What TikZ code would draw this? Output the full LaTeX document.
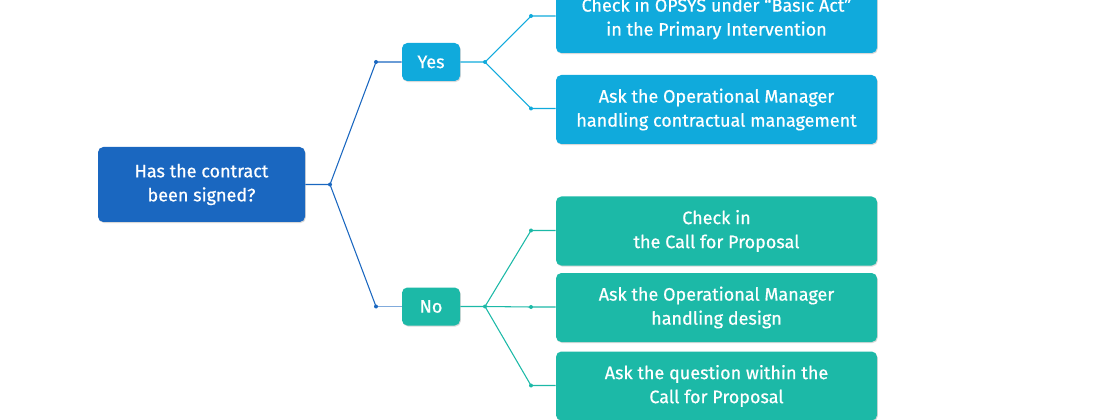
\documentclass[tikz,border=0pt]{standalone}
\usepackage{fontspec}
\setmainfont{Fira Sans}[FakeBold=0.6, UprightFeatures={FakeBold=0.6}]
\usetikzlibrary{shadows}
\definecolor{qblue}{HTML}{1A67C0}
\definecolor{lblue}{HTML}{10AADC}
\definecolor{tealc}{HTML}{1CB9A7}
\begin{document}
\begin{tikzpicture}[x=0.75pt,y=-0.75pt,
  box/.style={rounded corners=4pt, text=white, align=center,
    font=\fontsize{13.5}{18}\selectfont, inner sep=0pt,
    drop shadow={opacity=0.3, shadow xshift=0.6pt, shadow yshift=-0.8pt}},
  qbox/.style={box, fill=qblue, minimum width=155.25pt, minimum height=56.25pt},
  ynbox/.style={box, minimum width=43.5pt, minimum height=28.5pt},
  actbox/.style={box, minimum width=240.75pt, minimum height=51.75pt},
  link/.style={line width=0.8pt},
  dot/.style={circle, fill, inner sep=0pt, minimum size=3pt}]
\useasboundingbox (0,0) rectangle (1109,420);
% nodes
\node[qbox] (q) at (201.5,184.5) {Has the contract\\been signed?};
\node[ynbox, fill=lblue] (yes) at (431,62) {Yes};
\node[ynbox, fill=tealc] (no) at (431,306.5) {No};
\node[actbox, fill=lblue] (a1) at (716.5,18.5) {Check in OPSYS under “Basic Act”\\in the Primary Intervention};
\node[actbox, fill=lblue] (a2) at (716.5,109.5) {Ask the Operational Manager\\handling contractual management};
\node[actbox, fill=tealc] (b1) at (716.5,231) {Check in\\the Call for Proposal};
\node[actbox, fill=tealc] (b2) at (716.5,307.5) {Ask the Operational Manager\\handling design};
\node[actbox, fill=tealc] (b3) at (716.5,386) {Ask the question within the\\Call for Proposal};
% junction coordinates
\coordinate (j0) at (330,184.5);
\coordinate (jy) at (376,62);
\coordinate (jn) at (376,306.5);
\coordinate (ky) at (485,62);
\coordinate (ky1) at (531,16);
\coordinate (ky2) at (531,108.5);
\coordinate (kn) at (485,306.5);
\coordinate (kn1) at (531,230.5);
\coordinate (kn2) at (531,307);
\coordinate (kn3) at (531,385.5);
% connectors
\draw[link, qblue] (q.east) -- (j0) -- (jy) -- (yes.west);
\draw[link, qblue] (j0) -- (jn);
\draw[link, qblue!55] (jn) -- (no.west);
\draw[link, lblue] (yes.east) -- (ky) -- (ky1) -- (a1.west |- ky1);
\draw[link, lblue] (ky) -- (ky2) -- (a2.west |- ky2);
\draw[link, tealc] (no.east) -- (kn) -- (kn1) -- (b1.west |- kn1);
\draw[link, tealc] (kn) -- (kn2) -- (b2.west |- kn2);
\draw[link, tealc] (kn) -- (kn3) -- (b3.west |- kn3);
% dots
\foreach \c in {j0,jy,jn} \node[dot, qblue] at (\c) {};
\foreach \c in {ky,ky1,ky2} \node[dot, lblue] at (\c) {};
\foreach \c in {kn,kn1,kn2,kn3} \node[dot, tealc] at (\c) {};
\end{tikzpicture}
\end{document}
